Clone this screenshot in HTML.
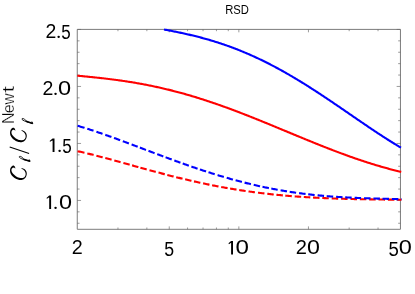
<!DOCTYPE html>
<html><head><meta charset="utf-8"><style>
html,body{margin:0;padding:0;background:#fff;}
body{width:415px;height:294px;position:relative;overflow:hidden;font-family:"Liberation Sans",sans-serif;color:#000;}
</style></head><body>
<svg width="415" height="294" viewBox="0 0 415 294" style="position:absolute;left:0;top:0;font-kerning:none" fill="#000">
<path d="M77.25,29.4 H400.45 V229.3 H77.25 Z" fill="none" stroke="#7c7c7c" stroke-width="1"/>
<path d="M169.25,229.3 v-2.9 M169.25,29.4 v2.9 M238.85,229.3 v-2.9 M238.85,29.4 v2.9 M308.45,229.3 v-2.9 M308.45,29.4 v2.9 M117.96,229.3 v-1.8 M117.96,29.4 v1.8 M146.85,229.3 v-1.8 M146.85,29.4 v1.8 M187.56,229.3 v-1.8 M187.56,29.4 v1.8 M203.04,229.3 v-1.8 M203.04,29.4 v1.8 M216.44,229.3 v-1.8 M216.44,29.4 v1.8 M228.27,229.3 v-1.8 M228.27,29.4 v1.8 M349.16,229.3 v-1.8 M349.16,29.4 v1.8 M378.04,229.3 v-1.8 M378.04,29.4 v1.8 M77.25,223.25 h2.3 M400.45,223.25 h-2.3 M77.25,211.85 h2.3 M400.45,211.85 h-2.3 M77.25,200.45 h3.8 M400.45,200.45 h-3.8 M77.25,189.05 h2.3 M400.45,189.05 h-2.3 M77.25,177.65 h2.3 M400.45,177.65 h-2.3 M77.25,166.25 h2.3 M400.45,166.25 h-2.3 M77.25,154.85 h2.3 M400.45,154.85 h-2.3 M77.25,143.45 h3.8 M400.45,143.45 h-3.8 M77.25,132.05 h2.3 M400.45,132.05 h-2.3 M77.25,120.65 h2.3 M400.45,120.65 h-2.3 M77.25,109.25 h2.3 M400.45,109.25 h-2.3 M77.25,97.85 h2.3 M400.45,97.85 h-2.3 M77.25,86.45 h3.8 M400.45,86.45 h-3.8 M77.25,75.05 h2.3 M400.45,75.05 h-2.3 M77.25,63.65 h2.3 M400.45,63.65 h-2.3 M77.25,52.25 h2.3 M400.45,52.25 h-2.3 M77.25,40.85 h2.3 M400.45,40.85 h-2.3 M77.25,29.45 h3.8 M400.45,29.45 h-3.8" fill="none" stroke="#666" stroke-width="0.65"/>
<g fill="none" stroke-width="2.1" stroke-linejoin="round">
<path d="M164.00,29.52 L165.00,29.71 L166.00,29.89 L167.00,30.08 L168.00,30.27 L169.00,30.46 L170.00,30.65 L171.00,30.84 L172.00,31.03 L173.00,31.23 L174.00,31.43 L175.00,31.63 L176.00,31.83 L177.00,32.03 L178.00,32.24 L179.00,32.44 L180.00,32.65 L181.00,32.86 L182.00,33.08 L183.00,33.29 L184.00,33.51 L185.00,33.73 L186.00,33.96 L187.00,34.18 L188.00,34.41 L189.00,34.64 L190.00,34.87 L191.00,35.11 L192.00,35.35 L193.00,35.59 L194.00,35.83 L195.00,36.08 L196.00,36.32 L197.00,36.58 L198.00,36.83 L199.00,37.09 L200.00,37.35 L201.00,37.61 L202.00,37.88 L203.00,38.15 L204.00,38.42 L205.00,38.70 L206.00,38.98 L207.00,39.26 L208.00,39.55 L209.00,39.84 L210.00,40.13 L211.00,40.42 L212.00,40.72 L213.00,41.03 L214.00,41.33 L215.00,41.64 L216.00,41.95 L217.00,42.27 L218.00,42.59 L219.00,42.91 L220.00,43.24 L221.00,43.57 L222.00,43.90 L223.00,44.24 L224.00,44.58 L225.00,44.93 L226.00,45.27 L227.00,45.63 L228.00,45.98 L229.00,46.34 L230.00,46.70 L231.00,47.07 L232.00,47.44 L233.00,47.81 L234.00,48.19 L235.00,48.57 L236.00,48.96 L237.00,49.35 L238.00,49.74 L239.00,50.14 L240.00,50.54 L241.00,50.94 L242.00,51.35 L243.00,51.76 L244.00,52.18 L245.00,52.60 L246.00,53.02 L247.00,53.45 L248.00,53.88 L249.00,54.31 L250.00,54.75 L251.00,55.19 L252.00,55.64 L253.00,56.09 L254.00,56.54 L255.00,57.00 L256.00,57.46 L257.00,57.93 L258.00,58.40 L259.00,58.87 L260.00,59.34 L261.00,59.82 L262.00,60.31 L263.00,60.80 L264.00,61.29 L265.00,61.78 L266.00,62.28 L267.00,62.78 L268.00,63.29 L269.00,63.80 L270.00,64.31 L271.00,64.82 L272.00,65.34 L273.00,65.87 L274.00,66.40 L275.00,66.93 L276.00,67.46 L277.00,68.00 L278.00,68.54 L279.00,69.08 L280.00,69.63 L281.00,70.18 L282.00,70.74 L283.00,71.29 L284.00,71.85 L285.00,72.42 L286.00,72.99 L287.00,73.56 L288.00,74.13 L289.00,74.71 L290.00,75.29 L291.00,75.87 L292.00,76.46 L293.00,77.05 L294.00,77.64 L295.00,78.24 L296.00,78.83 L297.00,79.43 L298.00,80.04 L299.00,80.65 L300.00,81.26 L301.00,81.87 L302.00,82.48 L303.00,83.10 L304.00,83.72 L305.00,84.34 L306.00,84.97 L307.00,85.60 L308.00,86.23 L309.00,86.86 L310.00,87.50 L311.00,88.13 L312.00,88.77 L313.00,89.41 L314.00,90.06 L315.00,90.71 L316.00,91.35 L317.00,92.00 L318.00,92.66 L319.00,93.31 L320.00,93.97 L321.00,94.63 L322.00,95.29 L323.00,95.95 L324.00,96.61 L325.00,97.28 L326.00,97.94 L327.00,98.61 L328.00,99.28 L329.00,99.95 L330.00,100.62 L331.00,101.30 L332.00,101.97 L333.00,102.65 L334.00,103.33 L335.00,104.01 L336.00,104.69 L337.00,105.37 L338.00,106.05 L339.00,106.73 L340.00,107.41 L341.00,108.10 L342.00,108.78 L343.00,109.47 L344.00,110.15 L345.00,110.84 L346.00,111.52 L347.00,112.21 L348.00,112.90 L349.00,113.58 L350.00,114.27 L351.00,114.96 L352.00,115.65 L353.00,116.33 L354.00,117.02 L355.00,117.71 L356.00,118.39 L357.00,119.08 L358.00,119.76 L359.00,120.45 L360.00,121.13 L361.00,121.82 L362.00,122.50 L363.00,123.18 L364.00,123.86 L365.00,124.54 L366.00,125.22 L367.00,125.90 L368.00,126.58 L369.00,127.26 L370.00,127.93 L371.00,128.60 L372.00,129.27 L373.00,129.94 L374.00,130.61 L375.00,131.28 L376.00,131.94 L377.00,132.61 L378.00,133.27 L379.00,133.93 L380.00,134.58 L381.00,135.24 L382.00,135.89 L383.00,136.54 L384.00,137.18 L385.00,137.83 L386.00,138.47 L387.00,139.11 L388.00,139.75 L389.00,140.38 L390.00,141.01 L391.00,141.64 L392.00,142.26 L393.00,142.88 L394.00,143.50 L395.00,144.11 L396.00,144.72 L397.00,145.33 L398.00,145.93 L399.00,146.53 L400.00,147.12 L401.00,147.71" stroke="#0000ff"/>
<path d="M77.25,75.68 L78.25,75.78 L79.25,75.87 L80.25,75.97 L81.25,76.06 L82.25,76.16 L83.25,76.26 L84.25,76.35 L85.25,76.45 L86.25,76.55 L87.25,76.64 L88.25,76.74 L89.25,76.84 L90.25,76.94 L91.25,77.04 L92.25,77.15 L93.25,77.25 L94.25,77.35 L95.25,77.46 L96.25,77.56 L97.25,77.67 L98.25,77.78 L99.25,77.89 L100.25,78.00 L101.25,78.11 L102.25,78.22 L103.25,78.33 L104.25,78.45 L105.25,78.57 L106.25,78.68 L107.25,78.80 L108.25,78.92 L109.25,79.04 L110.25,79.17 L111.25,79.29 L112.25,79.42 L113.25,79.55 L114.25,79.68 L115.25,79.81 L116.25,79.94 L117.25,80.08 L118.25,80.21 L119.25,80.35 L120.25,80.49 L121.25,80.63 L122.25,80.78 L123.25,80.92 L124.25,81.07 L125.25,81.22 L126.25,81.37 L127.25,81.52 L128.25,81.68 L129.25,81.84 L130.25,82.00 L131.25,82.16 L132.25,82.32 L133.25,82.48 L134.25,82.65 L135.25,82.82 L136.25,82.99 L137.25,83.17 L138.25,83.34 L139.25,83.52 L140.25,83.70 L141.25,83.88 L142.25,84.06 L143.25,84.25 L144.25,84.44 L145.25,84.63 L146.25,84.82 L147.25,85.02 L148.25,85.22 L149.25,85.42 L150.25,85.62 L151.25,85.82 L152.25,86.03 L153.25,86.24 L154.25,86.45 L155.25,86.66 L156.25,86.88 L157.25,87.10 L158.25,87.32 L159.25,87.54 L160.25,87.76 L161.25,87.99 L162.25,88.22 L163.25,88.45 L164.25,88.69 L165.25,88.92 L166.25,89.16 L167.25,89.40 L168.25,89.64 L169.25,89.89 L170.25,90.14 L171.25,90.39 L172.25,90.64 L173.25,90.90 L174.25,91.15 L175.25,91.41 L176.25,91.67 L177.25,91.94 L178.25,92.20 L179.25,92.47 L180.25,92.74 L181.25,93.02 L182.25,93.29 L183.25,93.57 L184.25,93.85 L185.25,94.13 L186.25,94.42 L187.25,94.70 L188.25,94.99 L189.25,95.28 L190.25,95.58 L191.25,95.87 L192.25,96.17 L193.25,96.47 L194.25,96.77 L195.25,97.08 L196.25,97.38 L197.25,97.69 L198.25,98.00 L199.25,98.31 L200.25,98.63 L201.25,98.94 L202.25,99.26 L203.25,99.58 L204.25,99.91 L205.25,100.23 L206.25,100.56 L207.25,100.89 L208.25,101.22 L209.25,101.55 L210.25,101.89 L211.25,102.22 L212.25,102.56 L213.25,102.90 L214.25,103.24 L215.25,103.59 L216.25,103.93 L217.25,104.28 L218.25,104.63 L219.25,104.98 L220.25,105.33 L221.25,105.69 L222.25,106.05 L223.25,106.40 L224.25,106.76 L225.25,107.13 L226.25,107.49 L227.25,107.85 L228.25,108.22 L229.25,108.59 L230.25,108.96 L231.25,109.33 L232.25,109.70 L233.25,110.07 L234.25,110.45 L235.25,110.83 L236.25,111.20 L237.25,111.58 L238.25,111.96 L239.25,112.35 L240.25,112.73 L241.25,113.12 L242.25,113.50 L243.25,113.89 L244.25,114.28 L245.25,114.67 L246.25,115.06 L247.25,115.45 L248.25,115.84 L249.25,116.24 L250.25,116.63 L251.25,117.03 L252.25,117.43 L253.25,117.83 L254.25,118.22 L255.25,118.62 L256.25,119.03 L257.25,119.43 L258.25,119.83 L259.25,120.23 L260.25,120.64 L261.25,121.04 L262.25,121.45 L263.25,121.86 L264.25,122.26 L265.25,122.67 L266.25,123.08 L267.25,123.49 L268.25,123.90 L269.25,124.31 L270.25,124.72 L271.25,125.13 L272.25,125.55 L273.25,125.96 L274.25,126.37 L275.25,126.78 L276.25,127.20 L277.25,127.61 L278.25,128.03 L279.25,128.44 L280.25,128.85 L281.25,129.27 L282.25,129.68 L283.25,130.10 L284.25,130.51 L285.25,130.93 L286.25,131.34 L287.25,131.76 L288.25,132.17 L289.25,132.59 L290.25,133.00 L291.25,133.42 L292.25,133.83 L293.25,134.25 L294.25,134.66 L295.25,135.08 L296.25,135.49 L297.25,135.91 L298.25,136.32 L299.25,136.73 L300.25,137.15 L301.25,137.56 L302.25,137.97 L303.25,138.38 L304.25,138.79 L305.25,139.20 L306.25,139.61 L307.25,140.02 L308.25,140.43 L309.25,140.84 L310.25,141.24 L311.25,141.65 L312.25,142.06 L313.25,142.46 L314.25,142.87 L315.25,143.27 L316.25,143.67 L317.25,144.07 L318.25,144.48 L319.25,144.88 L320.25,145.27 L321.25,145.67 L322.25,146.07 L323.25,146.46 L324.25,146.86 L325.25,147.25 L326.25,147.65 L327.25,148.04 L328.25,148.43 L329.25,148.82 L330.25,149.20 L331.25,149.59 L332.25,149.97 L333.25,150.36 L334.25,150.74 L335.25,151.12 L336.25,151.50 L337.25,151.88 L338.25,152.26 L339.25,152.63 L340.25,153.00 L341.25,153.38 L342.25,153.75 L343.25,154.11 L344.25,154.48 L345.25,154.85 L346.25,155.21 L347.25,155.57 L348.25,155.93 L349.25,156.29 L350.25,156.65 L351.25,157.00 L352.25,157.35 L353.25,157.71 L354.25,158.05 L355.25,158.40 L356.25,158.75 L357.25,159.09 L358.25,159.43 L359.25,159.77 L360.25,160.11 L361.25,160.44 L362.25,160.78 L363.25,161.11 L364.25,161.43 L365.25,161.76 L366.25,162.09 L367.25,162.41 L368.25,162.73 L369.25,163.04 L370.25,163.36 L371.25,163.67 L372.25,163.98 L373.25,164.29 L374.25,164.60 L375.25,164.90 L376.25,165.20 L377.25,165.50 L378.25,165.80 L379.25,166.09 L380.25,166.38 L381.25,166.67 L382.25,166.96 L383.25,167.24 L384.25,167.52 L385.25,167.80 L386.25,168.08 L387.25,168.35 L388.25,168.62 L389.25,168.89 L390.25,169.15 L391.25,169.42 L392.25,169.68 L393.25,169.93 L394.25,170.19 L395.25,170.44 L396.25,170.69 L397.25,170.94 L398.25,171.18 L399.25,171.42 L400.25,171.66 L401.25,171.89" stroke="#ff0000"/>
<path d="M77.60,151.20 L78.58,151.42 L79.55,151.63 L80.53,151.85 L81.51,152.07 L82.48,152.29 L83.45,152.51 L84.43,152.74 L84.48,152.75 M87.30,153.42 L88.27,153.65 L89.24,153.89 L90.22,154.12 L91.19,154.36 L92.16,154.60 L93.13,154.84 L93.61,154.97 M96.40,155.67 L97.37,155.92 L98.34,156.17 L99.31,156.42 L100.27,156.67 L101.24,156.92 L102.21,157.17 L102.69,157.30 M105.30,157.99 L106.27,158.25 L107.23,158.51 L108.20,158.77 L109.16,159.03 L110.13,159.29 L111.09,159.55 L111.58,159.68 M114.30,160.42 L115.26,160.69 L116.23,160.95 L117.19,161.22 L118.16,161.48 L119.12,161.75 L120.08,162.02 L120.57,162.15 M123.40,162.94 L124.36,163.20 L125.33,163.47 L126.29,163.74 L127.25,164.01 L128.22,164.28 L129.18,164.54 L129.66,164.68 M132.10,165.36 L133.06,165.63 L134.03,165.89 L134.99,166.16 L135.95,166.43 L136.92,166.70 L137.88,166.97 L138.36,167.10 M140.40,167.67 L141.36,167.93 L142.33,168.20 L143.29,168.47 L144.26,168.73 L145.22,169.00 L146.18,169.26 L146.67,169.39 M149.50,170.17 L150.46,170.43 L151.43,170.69 L152.39,170.96 L153.36,171.22 L154.33,171.48 L155.29,171.74 L155.77,171.87 M158.50,172.60 L159.47,172.85 L160.43,173.11 L161.40,173.37 L162.37,173.62 L163.33,173.88 L164.30,174.13 L164.79,174.25 M167.30,174.91 L168.27,175.16 L169.24,175.41 L170.21,175.65 L171.17,175.90 L172.14,176.15 L173.11,176.39 L173.60,176.51 M176.20,177.16 L177.17,177.41 L178.14,177.65 L179.11,177.88 L180.08,178.12 L181.06,178.36 L182.03,178.59 L182.51,178.71 M185.15,179.34 L186.12,179.57 L187.10,179.80 L188.07,180.03 L189.04,180.26 L190.02,180.48 L190.99,180.71 L191.48,180.82 M194.00,181.39 L194.98,181.61 L195.95,181.83 L196.93,182.05 L197.90,182.26 L198.88,182.47 L199.86,182.69 L200.35,182.79 M203.10,183.38 L204.08,183.59 L205.06,183.80 L206.04,184.00 L207.02,184.20 L207.99,184.40 L208.97,184.60 L209.46,184.70 M212.10,185.23 L213.08,185.43 L214.06,185.62 L215.04,185.81 L216.03,186.00 L217.01,186.19 L217.99,186.38 L218.48,186.47 M221.20,186.98 L222.18,187.16 L223.17,187.34 L224.15,187.51 L225.14,187.69 L226.12,187.86 L227.11,188.04 L227.60,188.12 M230.10,188.55 L231.09,188.72 L232.07,188.89 L233.06,189.05 L234.05,189.21 L235.03,189.37 L236.02,189.53 L236.51,189.61 M239.20,190.04 L240.19,190.19 L241.18,190.34 L242.17,190.49 L243.15,190.64 L244.14,190.79 L245.13,190.93 L245.63,191.00 M248.50,191.42 L249.49,191.56 L250.48,191.69 L251.47,191.83 L252.46,191.96 L253.45,192.10 L254.44,192.23 L254.94,192.29 M258.00,192.69 L258.99,192.81 L259.98,192.93 L260.98,193.06 L261.97,193.18 L262.96,193.30 L263.96,193.41 L264.45,193.47 M267.30,193.80 L268.29,193.91 L269.29,194.02 L270.28,194.13 L271.28,194.23 L272.27,194.34 L273.27,194.44 L273.76,194.49 M276.40,194.76 L277.40,194.86 L278.39,194.96 L279.39,195.05 L280.38,195.15 L281.38,195.24 L282.37,195.33 L282.87,195.38 M285.30,195.59 L286.30,195.68 L287.29,195.76 L288.29,195.85 L289.29,195.93 L290.28,196.01 L291.28,196.09 L291.78,196.13 M294.70,196.36 L295.70,196.43 L296.69,196.51 L297.69,196.58 L298.69,196.65 L299.69,196.72 L300.68,196.79 L301.18,196.82 M303.80,197.00 L304.80,197.06 L305.80,197.12 L306.79,197.19 L307.79,197.25 L308.79,197.31 L309.79,197.36 L310.29,197.39 M313.00,197.55 L314.00,197.60 L315.00,197.65 L316.00,197.71 L316.99,197.76 L317.99,197.81 L318.99,197.86 L319.49,197.88 M322.30,198.02 L323.30,198.06 L324.30,198.11 L325.30,198.15 L326.30,198.19 L327.30,198.23 L328.29,198.27 L328.79,198.29 M331.70,198.41 L332.70,198.45 L333.70,198.48 L334.70,198.52 L335.70,198.55 L336.70,198.59 L337.70,198.62 L338.20,198.64 M341.10,198.73 L342.10,198.76 L343.10,198.79 L344.10,198.82 L345.10,198.85 L346.10,198.88 L347.10,198.90 L347.60,198.92 M350.50,198.99 L351.50,199.02 L352.50,199.04 L353.50,199.06 L354.50,199.09 L355.50,199.11 L356.50,199.13 L357.00,199.14 M359.85,199.20 L360.85,199.22 L361.85,199.24 L362.85,199.26 L363.85,199.28 L364.85,199.30 L365.85,199.31 L366.35,199.32 M369.20,199.37 L370.20,199.39 L371.20,199.40 L372.20,199.42 L373.20,199.43 L374.20,199.45 L375.20,199.46 L375.70,199.47 M378.50,199.50 L379.50,199.52 L380.50,199.53 L381.50,199.54 L382.50,199.55 L383.50,199.57 L384.50,199.58 L385.00,199.58 M387.90,199.62 L388.90,199.63 L389.90,199.64 L390.90,199.65 L391.90,199.66 L392.90,199.67 L393.90,199.68 L394.40,199.68 M397.30,199.71 L398.30,199.72 L399.30,199.73 L400.30,199.74 L401.30,199.75 L401.50,199.75" stroke="#ff0000"/>
<path d="M77.60,125.77 L78.56,126.05 L79.52,126.34 L80.47,126.63 L81.43,126.92 L82.39,127.21 L83.34,127.51 L84.30,127.80 L84.53,127.88 M87.30,128.75 L88.25,129.06 L89.20,129.36 L90.16,129.67 L91.11,129.98 L92.06,130.30 L93.01,130.61 L93.48,130.77 M96.40,131.74 L97.35,132.07 L98.29,132.39 L99.24,132.71 L100.19,133.04 L101.13,133.36 L102.08,133.69 L102.55,133.85 M105.30,134.82 L106.24,135.15 L107.19,135.48 L108.13,135.82 L109.07,136.15 L110.01,136.49 L110.95,136.83 L111.42,137.00 M114.00,137.93 L114.94,138.27 L115.88,138.61 L116.82,138.96 L117.76,139.30 L118.70,139.65 L119.63,139.99 L120.10,140.17 M122.80,141.16 L123.74,141.51 L124.67,141.86 L125.61,142.21 L126.55,142.56 L127.48,142.91 L128.42,143.26 L128.89,143.44 M131.60,144.46 L132.54,144.81 L133.47,145.16 L134.41,145.51 L135.34,145.87 L136.28,146.22 L137.21,146.57 L137.68,146.75 M139.90,147.59 L140.84,147.94 L141.77,148.30 L142.71,148.65 L143.64,149.01 L144.58,149.36 L145.51,149.72 L145.98,149.89 M148.50,150.85 L149.44,151.20 L150.37,151.56 L151.31,151.91 L152.24,152.26 L153.18,152.62 L154.11,152.97 L154.58,153.15 M157.20,154.13 L158.14,154.48 L159.07,154.84 L160.01,155.19 L160.95,155.54 L161.88,155.89 L162.82,156.24 L163.29,156.41 M165.60,157.27 L166.54,157.62 L167.48,157.97 L168.41,158.32 L169.35,158.66 L170.29,159.01 L171.23,159.35 L171.70,159.52 M174.30,160.48 L175.24,160.82 L176.18,161.16 L177.12,161.50 L178.06,161.84 L179.00,162.18 L179.94,162.52 L180.41,162.69 M182.70,163.51 L183.64,163.84 L184.58,164.17 L185.53,164.51 L186.47,164.84 L187.41,165.17 L188.36,165.50 L188.83,165.67 M191.40,166.56 L192.35,166.89 L193.29,167.21 L194.24,167.53 L195.18,167.86 L196.13,168.18 L197.08,168.50 L197.55,168.66 M199.90,169.45 L200.85,169.76 L201.80,170.08 L202.75,170.39 L203.70,170.70 L204.65,171.01 L205.60,171.32 L206.07,171.48 M208.50,172.26 L209.45,172.56 L210.41,172.87 L211.36,173.17 L212.31,173.47 L213.27,173.77 L214.22,174.06 L214.70,174.21 M217.60,175.10 L218.56,175.39 L219.51,175.68 L220.47,175.97 L221.43,176.26 L222.39,176.54 L223.35,176.82 L223.83,176.97 M226.70,177.80 L227.66,178.08 L228.62,178.35 L229.59,178.62 L230.55,178.89 L231.51,179.16 L232.47,179.43 L232.96,179.56 M235.60,180.28 L236.57,180.54 L237.53,180.80 L238.50,181.06 L239.47,181.31 L240.43,181.57 L241.40,181.82 L241.88,181.94 M244.60,182.63 L245.57,182.88 L246.54,183.12 L247.51,183.36 L248.48,183.59 L249.45,183.83 L250.43,184.06 L250.91,184.18 M253.70,184.84 L254.67,185.06 L255.65,185.28 L256.62,185.51 L257.60,185.72 L258.58,185.94 L259.55,186.16 L260.04,186.27 M262.50,186.80 L263.48,187.00 L264.46,187.21 L265.44,187.41 L266.42,187.61 L267.40,187.81 L268.38,188.01 L268.87,188.11 M271.30,188.59 L272.28,188.78 L273.26,188.97 L274.25,189.15 L275.23,189.33 L276.21,189.52 L277.20,189.70 L277.69,189.78 M280.60,190.30 L281.59,190.47 L282.57,190.64 L283.56,190.80 L284.54,190.97 L285.53,191.13 L286.52,191.29 L287.01,191.37 M289.70,191.79 L290.69,191.94 L291.68,192.09 L292.67,192.24 L293.66,192.38 L294.65,192.53 L295.64,192.67 L296.13,192.74 M299.10,193.15 L300.09,193.28 L301.08,193.41 L302.07,193.54 L303.07,193.67 L304.06,193.79 L305.05,193.91 L305.55,193.97 M308.20,194.29 L309.19,194.40 L310.19,194.51 L311.18,194.62 L312.18,194.73 L313.17,194.84 L314.16,194.95 L314.66,195.00 M317.60,195.29 L318.60,195.39 L319.59,195.49 L320.59,195.58 L321.58,195.67 L322.58,195.76 L323.57,195.85 L324.07,195.89 M326.70,196.11 L327.70,196.19 L328.69,196.27 L329.69,196.35 L330.69,196.43 L331.68,196.50 L332.68,196.58 L333.18,196.61 M336.10,196.81 L337.10,196.88 L338.10,196.94 L339.09,197.01 L340.09,197.07 L341.09,197.13 L342.09,197.19 L342.59,197.22 M345.20,197.36 L346.20,197.42 L347.20,197.47 L348.20,197.52 L349.19,197.57 L350.19,197.62 L351.19,197.67 L351.69,197.69 M354.60,197.82 L355.60,197.86 L356.60,197.90 L357.60,197.94 L358.60,197.98 L359.60,198.02 L360.60,198.06 L361.09,198.08 M364.00,198.18 L365.00,198.21 L366.00,198.25 L367.00,198.28 L368.00,198.31 L369.00,198.34 L370.00,198.37 L370.50,198.39 M373.40,198.47 L374.40,198.50 L375.40,198.53 L376.40,198.56 L377.40,198.58 L378.40,198.61 L379.40,198.63 L379.90,198.65 M382.50,198.71 L383.50,198.74 L384.50,198.76 L385.50,198.79 L386.50,198.81 L387.50,198.84 L388.50,198.86 L389.00,198.88 M391.90,198.95 L392.90,198.98 L393.90,199.00 L394.90,199.03 L395.90,199.05 L396.90,199.08 L397.90,199.11 L398.40,199.12 M401.00,199.19 L401.50,199.21" stroke="#0000ff"/>
</g>
<g style="filter:grayscale(1)">
<text transform="translate(225.18,13.80) scale(0.8932,1.0)" font-family='"Liberation Sans",sans-serif' font-style="normal" font-size="12.6" >RSD</text>
<text transform="translate(45.57,37.95) scale(0.9811,1.0)" font-family='"Liberation Sans",sans-serif' font-style="normal" font-size="19.8" >2</text><circle cx="58.65" cy="36.85" r="1.2"/><text transform="translate(61.32,39.20) scale(0.8596,1.06)" font-family='"Liberation Sans",sans-serif' font-style="normal" font-size="19.8" >5</text>
<text transform="translate(42.42,94.95) scale(0.9867,1.0)" font-family='"Liberation Sans",sans-serif' font-style="normal" font-size="19.8" >2</text><circle cx="55.55" cy="93.85" r="1.2"/><text transform="translate(57.88,94.95) scale(1.1907,1.0)" font-family='"Liberation Sans",sans-serif' font-style="normal" font-size="19.8" >0</text>
<path d="M52.60,138.55 H54.50 V151.95 H52.60 Z M52.60,138.55 L49.60,140.90 L50.05,141.85 L52.60,140.30 Z"/><circle cx="59.60" cy="150.85" r="1.2"/><text transform="translate(62.22,153.20) scale(0.8628,1.06)" font-family='"Liberation Sans",sans-serif' font-style="normal" font-size="19.8" >5</text>
<path d="M49.20,195.55 H51.10 V208.95 H49.20 Z M49.20,195.55 L46.50,197.90 L46.95,198.85 L49.20,197.30 Z"/><circle cx="55.55" cy="207.85" r="1.2"/><text transform="translate(58.88,208.95) scale(1.1833,1.0)" font-family='"Liberation Sans",sans-serif' font-style="normal" font-size="19.8" >0</text>
<text transform="translate(71.71,254.40) scale(0.9978,1.0)" font-family='"Liberation Sans",sans-serif' font-style="normal" font-size="19.8" >2</text>
<text transform="translate(164.19,255.65) scale(0.8948,1.06)" font-family='"Liberation Sans",sans-serif' font-style="normal" font-size="19.8" >5</text>
<path d="M231.10,241.00 H233.00 V254.40 H231.10 Z M231.10,241.00 L228.50,243.35 L228.95,244.30 L231.10,242.75 Z"/><text transform="translate(235.46,254.40) scale(1.2203,1.0)" font-family='"Liberation Sans",sans-serif' font-style="normal" font-size="19.8" >0</text>
<text transform="translate(295.74,254.40) scale(1.0144,1.0)" font-family='"Liberation Sans",sans-serif' font-style="normal" font-size="19.8" >2</text><text transform="translate(306.89,254.40) scale(1.1727,1.0)" font-family='"Liberation Sans",sans-serif' font-style="normal" font-size="19.8" >0</text>
<text transform="translate(388.56,255.65) scale(0.9374,1.06)" font-family='"Liberation Sans",sans-serif' font-style="normal" font-size="19.8" >5</text><text transform="translate(398.68,254.40) scale(1.1886,1.0)" font-family='"Liberation Sans",sans-serif' font-style="normal" font-size="19.8" >0</text>
<path d="M15.14,168.74 L15.27,168.07 L15.13,167.29 L14.77,166.53 L14.25,165.91 L13.62,165.55 L12.94,165.56 L12.25,165.88 L11.62,166.41 L11.09,167.02 L10.69,167.67 L10.40,168.36 L10.20,169.07 L10.08,169.80 L10.03,170.55 L10.06,171.30 L10.17,172.04 L10.35,172.77 L10.61,173.47 L10.94,174.15 L11.33,174.79 L11.77,175.40 L12.26,175.97 L12.78,176.50 L13.34,177.00 L13.92,177.46 L14.53,177.90 L15.16,178.30 L15.81,178.68 L16.48,179.02 L17.16,179.31 L17.86,179.56 L18.58,179.77 L19.32,179.91 L20.06,180.00 L20.81,180.01 L21.56,179.95 L22.31,179.81 L23.03,179.58 L23.72,179.27 L24.34,178.86 L24.89,178.37 L25.37,177.79 L25.78,177.15 L26.12,176.47 L26.40,175.77 L26.60,175.04 L26.73,174.30 L26.76,173.56 L26.70,172.81 L26.53,172.07 L26.27,171.37 L25.91,170.71 L25.46,170.11 L24.93,169.58 L24.34,169.12 L23.69,168.73 L23.01,168.41 L22.30,168.17 L21.58,167.99 L21.51,168.74 L22.03,168.92 L22.54,169.16 L23.02,169.44 L23.48,169.77 L23.90,170.15 L24.29,170.55 L24.64,171.00 L24.94,171.47 L25.19,171.97 L25.39,172.49 L25.53,173.03 L25.61,173.58 L25.63,174.15 L25.59,174.71 L25.49,175.27 L25.31,175.81 L25.06,176.31 L24.73,176.76 L24.33,177.16 L23.87,177.48 L23.36,177.74 L22.82,177.92 L22.28,178.03 L21.72,178.07 L21.16,178.06 L20.61,178.00 L20.05,177.91 L19.49,177.81 L18.94,177.68 L18.40,177.53 L17.87,177.36 L17.35,177.15 L16.86,176.91 L16.39,176.62 L15.94,176.30 L15.51,175.95 L15.08,175.59 L14.66,175.21 L14.25,174.83 L13.83,174.45 L13.43,174.06 L13.04,173.66 L12.68,173.24 L12.34,172.80 L12.05,172.32 L11.80,171.82 L11.61,171.28 L11.49,170.73 L11.45,170.17 L11.51,169.60 L11.66,169.05 L11.93,168.55 L12.31,168.13 L12.79,167.82 L13.34,167.64 L13.89,167.62 L14.41,167.78 L14.85,168.15 L15.14,168.74Z"/>
<path d="M15.14,130.94 L15.27,130.27 L15.13,129.49 L14.77,128.73 L14.25,128.11 L13.62,127.75 L12.94,127.76 L12.25,128.08 L11.62,128.61 L11.09,129.22 L10.69,129.87 L10.40,130.56 L10.20,131.27 L10.08,132.00 L10.03,132.75 L10.06,133.50 L10.17,134.24 L10.35,134.97 L10.61,135.67 L10.94,136.35 L11.33,136.99 L11.77,137.60 L12.26,138.17 L12.78,138.70 L13.34,139.20 L13.92,139.66 L14.53,140.10 L15.16,140.50 L15.81,140.88 L16.48,141.22 L17.16,141.51 L17.86,141.76 L18.58,141.97 L19.32,142.11 L20.06,142.20 L20.81,142.21 L21.56,142.15 L22.31,142.01 L23.03,141.78 L23.72,141.47 L24.34,141.06 L24.89,140.57 L25.37,139.99 L25.78,139.35 L26.12,138.67 L26.40,137.97 L26.60,137.24 L26.73,136.50 L26.76,135.76 L26.70,135.01 L26.53,134.27 L26.27,133.57 L25.91,132.91 L25.46,132.31 L24.93,131.78 L24.34,131.32 L23.69,130.93 L23.01,130.61 L22.30,130.37 L21.58,130.19 L21.51,130.94 L22.03,131.12 L22.54,131.36 L23.02,131.64 L23.48,131.97 L23.90,132.35 L24.29,132.75 L24.64,133.20 L24.94,133.67 L25.19,134.17 L25.39,134.69 L25.53,135.23 L25.61,135.78 L25.63,136.35 L25.59,136.91 L25.49,137.47 L25.31,138.01 L25.06,138.51 L24.73,138.96 L24.33,139.36 L23.87,139.68 L23.36,139.94 L22.82,140.12 L22.28,140.23 L21.72,140.27 L21.16,140.26 L20.61,140.20 L20.05,140.11 L19.49,140.01 L18.94,139.88 L18.40,139.73 L17.87,139.56 L17.35,139.35 L16.86,139.11 L16.39,138.82 L15.94,138.50 L15.51,138.15 L15.08,137.79 L14.66,137.41 L14.25,137.03 L13.83,136.65 L13.43,136.26 L13.04,135.86 L12.68,135.44 L12.34,135.00 L12.05,134.52 L11.80,134.02 L11.61,133.48 L11.49,132.93 L11.45,132.37 L11.51,131.80 L11.66,131.25 L11.93,130.75 L12.31,130.33 L12.79,130.02 L13.34,129.84 L13.89,129.82 L14.41,129.98 L14.85,130.35 L15.14,130.94Z"/>
<path d="M9.7,147.0 L29.1,153.4" stroke="#000" stroke-width="1.1" fill="none"/>
<path d="M31.83,121.51 L32.81,123.53 L27.66,122.06 C25.82,121.51 22.87,120.59 22.01,119.36 C21.52,118.26 23.24,118.13 24.59,119.36 C25.69,120.34 26.55,121.20 27.78,122.18" fill="none" stroke="#000" stroke-width="0.9" stroke-linejoin="round"/><path d="M32.75,123.47 L26.12,121.33" fill="none" stroke="#000" stroke-width="1.5"/>
<path d="M29.13,159.36 L30.11,161.38 L24.96,159.91 C23.12,159.36 20.17,158.44 19.31,157.21 C18.82,156.11 20.54,155.98 21.89,157.21 C22.99,158.19 23.85,159.05 25.08,160.03" fill="none" stroke="#000" stroke-width="0.9" stroke-linejoin="round"/><path d="M30.05,161.32 L23.42,159.18" fill="none" stroke="#000" stroke-width="1.5"/>
<g transform="rotate(-90)">
<text transform="translate(-123.92,14.00) scale(1.0070,1.0)" font-family='"Liberation Sans",sans-serif' font-style="normal" font-size="16.0" stroke="#fff" stroke-width="0.3">N</text>
<text transform="translate(-113.28,14.00) scale(0.9990,1.0)" font-family='"Liberation Sans",sans-serif' font-style="normal" font-size="16.0" stroke="#fff" stroke-width="0.3">e</text>
<text transform="translate(-104.38,14.00) scale(0.9641,1.0)" font-family='"Liberation Sans",sans-serif' font-style="normal" font-size="16.0" stroke="#fff" stroke-width="0.3">w</text>
<text transform="translate(-92.78,14.00) scale(1.5663,1.0)" font-family='"Liberation Sans",sans-serif' font-style="normal" font-size="16.0" stroke="#fff" stroke-width="0.3">t</text>
</g>
</g>
</svg>
</body></html>
